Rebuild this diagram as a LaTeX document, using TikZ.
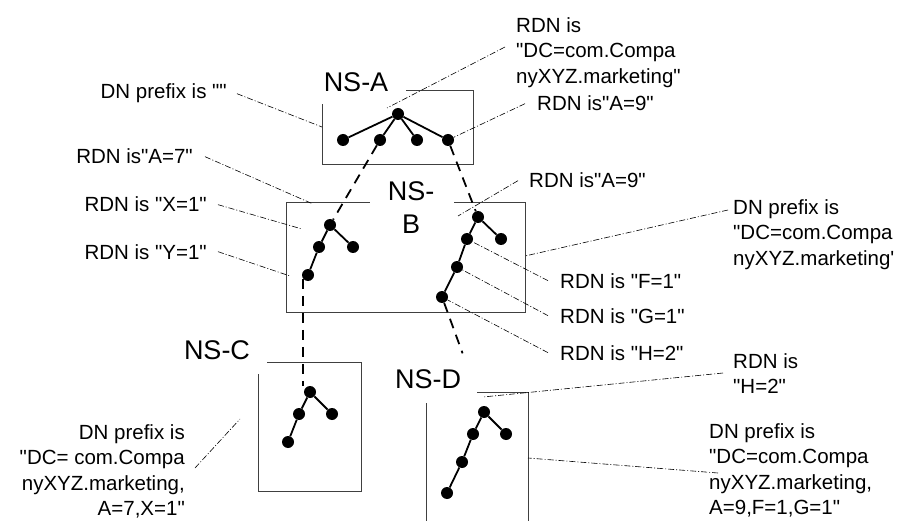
\documentclass[tikz,border=0pt]{standalone}
\usepackage{fontspec}
\setmainfont{Liberation Sans}[Ligatures=TeXOff]
\usetikzlibrary{calc}

\tikzset{
  vtx/.style={circle,fill=black,inner sep=0pt,minimum size=12pt},
  branch/.style={line width=1.8pt},
  link/.style={line width=1.8pt,dash pattern=on 10pt off 7pt},
  leader/.style={line width=0.6pt,dash pattern=on 6pt off 2pt on 1pt off 2pt},
  nsbox/.style={line width=0.9pt,black!75},
  lbl/.style={inner sep=0pt,font=\fontsize{20.5}{25.5}\selectfont},
  nstitle/.style={inner sep=0pt,align=center,font=\fontsize{27}{33}\selectfont},
}

\begin{document}
\begin{tikzpicture}[x=1pt,y=-1pt]
\useasboundingbox (0,0) rectangle (907,521);

% name space boxes
\draw [nsbox] (406,90) -- (473,90) -- (473,164) -- (322,164) -- (322,104);
\draw [nsbox] (454,202) -- (525,202) -- (525,312) -- (286,312) -- (286,202) -- (370,202);
\draw [nsbox] (267,362) -- (361,362) -- (361,491) -- (258,491) -- (258,374);
\draw [nsbox] (426,521) -- (426,403);
\draw [nsbox] (477,392) -- (528,392) -- (528,521);

\node [nstitle] (tA) at (356,82) {NS-A};
\node [nstitle] (tB) at (411,208) {NS-\\B};
\node [nstitle] (tC) at (217,350) {NS-C};
\node [nstitle] (tD) at (428,379) {NS-D};

% NS-A
\node [vtx] (a0) at (398,114) {};
\node [vtx] (a1) at (343,140) {};
\node [vtx] (a2) at (380,140) {};
\node [vtx] (a3) at (417,140) {};
\node [vtx] (a4) at (448,140) {};
% NS-B
\node [vtx] (bl1) at (330,225) {};
\node [vtx] (bl2) at (319,247) {};
\node [vtx] (bl3) at (353,247) {};
\node [vtx] (bl4) at (308,275) {};
\node [vtx] (br1) at (478,217) {};
\node [vtx] (br2) at (467,239) {};
\node [vtx] (brx) at (501,239) {};
\node [vtx] (br3) at (457,267) {};
\node [vtx] (br4) at (442,297) {};
% NS-C
\node [vtx] (c1) at (310,392) {};
\node [vtx] (c2) at (299,414) {};
\node [vtx] (c3) at (332,414) {};
\node [vtx] (c4) at (288,442) {};
% NS-D
\node [vtx] (d1) at (484,412) {};
\node [vtx] (d2) at (473,434) {};
\node [vtx] (dx) at (506,434) {};
\node [vtx] (d3) at (462,462) {};
\node [vtx] (d4) at (447,493) {};

\draw [branch] (a0) edge (a1);
\draw [branch] (a0) edge (a2);
\draw [branch] (a0) edge (a3);
\draw [branch] (a0) edge (a4);
\draw [branch] (bl1) edge (bl2);
\draw [branch] (bl1) edge (bl3);
\draw [branch] (bl2) edge (bl4);
\draw [branch] (br1) edge (br2);
\draw [branch] (br1) edge (brx);
\draw [branch] (br2) edge (br3);
\draw [branch] (br3) edge (br4);
\draw [branch] (c1) edge (c2);
\draw [branch] (c1) edge (c3);
\draw [branch] (c2) edge (c4);
\draw [branch] (d1) edge (d2);
\draw [branch] (d1) edge (dx);
\draw [branch] (d2) edge (d3);
\draw [branch] (d3) edge (d4);

% links between name spaces
\coordinate (dgap) at ($(br4)!0.49!(d1)$);
\draw [link] (a2) edge (bl1);
\draw [link] (a4) edge (br1);
\draw [link] (bl4.220) -- (bl4.220 |- c1.north);
\draw [link] (br4) -- (dgap);

% labels
\node [lbl,anchor=base east] (lAp) at (227,99) {DN prefix is ""};
\node [lbl,anchor=north west,align=left] (lAr) at (516,17) {RDN is\\"DC=com.Compa\\nyXYZ.marketing"};
\node [lbl,anchor=base west] (lA9) at (537,111) {RDN is"A=9"};
\node [lbl,anchor=base east] (lB7) at (193,164) {RDN is"A=7"};
\node [lbl,anchor=base east] (lBx) at (207,212) {RDN is "X=1"};
\node [lbl,anchor=base east] (lBy) at (207,259) {RDN is "Y=1"};
\node [lbl,anchor=base west] (lB9) at (529,188) {RDN is"A=9"};
\node [lbl,anchor=north west,align=left] (lBp) at (733,199) {DN prefix is\\"DC=com.Compa\\nyXYZ.marketing'};
\node [lbl,anchor=base west] (lBf) at (560,288) {RDN is "F=1"};
\node [lbl,anchor=base west] (lBg) at (560,323) {RDN is "G=1"};
\node [lbl,anchor=base west] (lBh) at (560,360) {RDN is "H=2"};
\node [lbl,anchor=north west,align=left] (lDh) at (733,353) {RDN is\\"H=2"};
\node [lbl,anchor=north west,align=left] (lDp) at (709,423) {DN prefix is\\"DC=com.Compa\\nyXYZ.marketing,\\A=9,F=1,G=1"};
\node [lbl,anchor=north east,align=right] (lCp) at (185,424) {DN prefix is\\"DC= com.Compa\\nyXYZ.marketing,\\A=7,X=1"};

% leader ends
\coordinate (pA) at (322,127);
\coordinate (pAr) at (387,108);
\coordinate (pB7) at (313,204);
\coordinate (pBx) at (302,229);
\coordinate (pBy) at (290,276);
\coordinate (pB9) at (458,216);
\coordinate (pBp) at (525,256);
\coordinate (pDh) at (483,397);
\coordinate (pDp) at (528,458);
\coordinate (pCp) at (240,419);

\draw [leader] ([xshift=10pt]lAp.east) -- (pA);
\draw [leader] ([shift={(-11,30)}]lAr.north west) -- (pAr);
\draw [leader] ([xshift=-12pt]lA9.west) -- (a4);
\draw [leader] ([xshift=12pt]lB7.east) -- (pB7);
\draw [leader] ([xshift=11pt]lBx.east) -- (pBx);
\draw [leader] ([xshift=11pt]lBy.east) -- (pBy);
\draw [leader] ([xshift=-11pt]lB9.west) -- (pB9);
\draw [leader] ([shift={(-5,11)}]lBp.north west) -- (pBp);
\draw [leader] ([xshift=-12pt]lBf.west) -- (br2);
\draw [leader] ([xshift=-12pt]lBg.west) -- (br3);
\draw [leader] ([xshift=-12pt]lBh.west) -- (br4);
\draw [leader] ([shift={(-10,20)}]lDh.north west) -- (pDh);
\draw [leader] ([shift={(9,50)}]lDp.north west) -- (pDp);
\draw [leader] ([shift={(10,44)}]lCp.north east) -- (pCp);
\end{tikzpicture}
\end{document}
